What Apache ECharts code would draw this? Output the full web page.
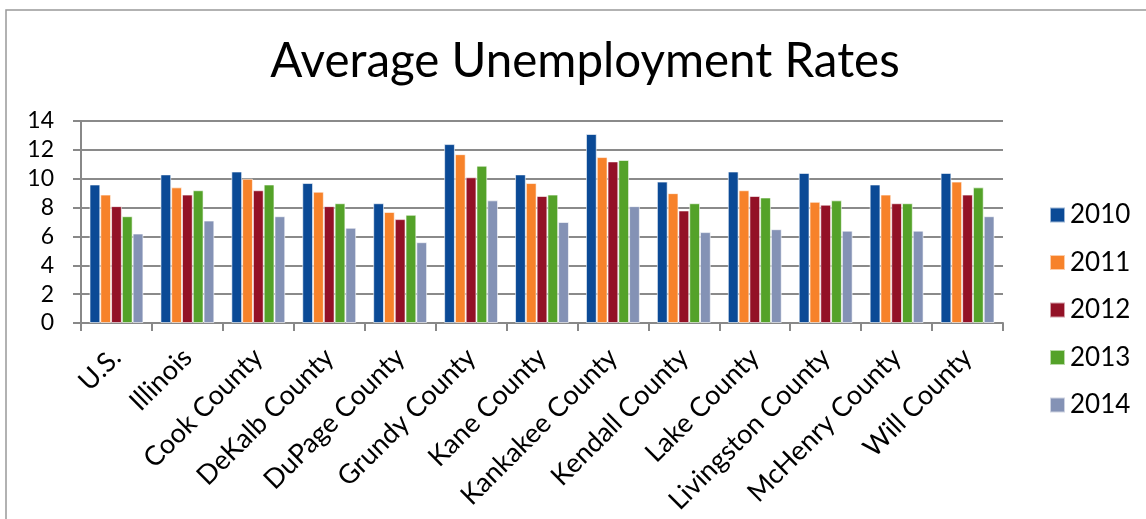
<!DOCTYPE html>
<html>
<head>
<meta charset="utf-8">
<script src="https://cdn.jsdelivr.net/npm/echarts@6/dist/echarts.min.js"></script>
<style>
  html, body { margin: 0; padding: 0; background: #fff; }
  #container { width: 1146px; height: 519px; }
</style>
</head>
<body>
<div id="container"></div>
<script>
var categories = ["U.S.", "Illinois", "Cook County", "DeKalb County", "DuPage County", "Grundy County",
    "Kane County", "Kankakee County", "Kendall County", "Lake County", "Livingston County",
    "McHenry County", "Will County"];
var years = ["2010", "2011", "2012", "2013", "2014"];
var rates2010 = [9.6, 10.3, 10.5, 9.7, 8.3, 12.4, 10.3, 13.1, 9.8, 10.5, 10.4, 9.6, 10.4];
var rates2011 = [8.9, 9.4, 10.0, 9.1, 7.7, 11.7, 9.7, 11.5, 9.0, 9.2, 8.4, 8.9, 9.8];
var rates2012 = [8.1, 8.9, 9.2, 8.1, 7.2, 10.1, 8.8, 11.2, 7.8, 8.8, 8.2, 8.3, 8.9];
var rates2013 = [7.4, 9.2, 9.6, 8.3, 7.5, 10.9, 8.9, 11.3, 8.3, 8.7, 8.5, 8.3, 9.4];
var rates2014 = [6.2, 7.1, 7.4, 6.6, 5.6, 8.5, 7.0, 8.1, 6.3, 6.5, 6.4, 6.4, 7.4];
var yTicks = [0, 2, 4, 6, 8, 10, 12, 14];

var colors = ["#0B4A96", "#F7822A", "#931126", "#54A229", "#8492B5"];
var allRates = [rates2010, rates2011, rates2012, rates2013, rates2014];
var font = "Lato, 'Noto Sans', sans-serif";

var myChart = echarts.init(document.getElementById('container'));

var series = [];
for (var i = 0; i < years.length; i++) {
    series.push({
        name: years[i],
        type: "bar",
        barGap: "0%",
        barCategoryGap: "24%",
        itemStyle: {color: colors[i], borderColor: "rgba(255,255,255,0.6)", borderWidth: 1},
        data: allRates[i]
    });
}

var option = {
    backgroundColor: "#ffffff",
    animation: false,
    color: colors,
    graphic: [{
        type: "rect",
        shape: {x: 6, y: 10, width: 1300, height: 700},
        style: {fill: "none", stroke: "#999999", lineWidth: 1.5},
        silent: true
    }],
    title: {
        text: "Average Unemployment Rates",
        left: 580,
        textAlign: "center",
        top: 33,
        textStyle: {fontFamily: font, fontSize: 47.5, fontWeight: "normal", color: "#000"}
    },
    legend: {
        orient: "vertical",
        left: 1044,
        top: 197,
        itemWidth: 15,
        itemHeight: 15,
        itemGap: 21.5,
        icon: "rect",
        textStyle: {fontFamily: font, fontSize: 26, color: "#000"},
        data: years
    },
    grid: {left: 81, top: 121, right: 143, bottom: 196},
    xAxis: {
        type: "category",
        data: categories,
        axisLine: {lineStyle: {color: "#888888", width: 2}},
        axisTick: {show: true, length: 8, lineStyle: {color: "#888888", width: 2}},
        axisLabel: {rotate: 45, interval: 0, fontFamily: font, fontSize: 27, color: "#000", margin: 30}
    },
    yAxis: {
        type: "value",
        min: yTicks[0],
        max: yTicks[yTicks.length - 1],
        interval: yTicks[1] - yTicks[0],
        axisLine: {show: true, lineStyle: {color: "#888888", width: 2}},
        axisTick: {show: true, length: 8, lineStyle: {color: "#888888", width: 2}},
        axisLabel: {fontFamily: font, fontSize: 23, color: "#000", margin: 27},
        splitLine: {lineStyle: {color: "#8a8a8a", width: 2}}
    },
    series: series
};
myChart.setOption(option);
</script>
</body>
</html>
